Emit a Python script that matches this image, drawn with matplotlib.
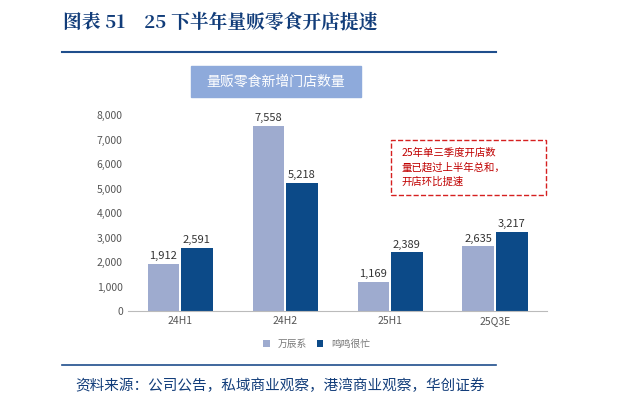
import matplotlib.pyplot as plt
from matplotlib.patches import Rectangle
import numpy as np

plt.rcParams['font.family'] = ['Noto Sans CJK SC', 'DejaVu Sans']

categories = ['24H1', '24H2', '25H1', '25Q3E']
wanchen = [1912, 7558, 1169, 2635]
mingming = [2591, 5218, 2389, 3217]
series_names = ['万辰系', '鸣鸣很忙']

fig = plt.figure(figsize=(6.2, 4.07), dpi=100)
ax = fig.add_axes([0.206, 0.236, 0.677, 0.481])

x = np.arange(len(categories))
w = 0.3
c1, c2 = '#9eabcf', '#0c4a88'
b1 = ax.bar(x - w / 2 - 0.01, wanchen, w, color=c1, label=series_names[0])
b2 = ax.bar(x + w / 2 + 0.01, mingming, w, color=c2, label=series_names[1])
for bars in (b1, b2):
    for r in bars:
        ax.text(r.get_x() + r.get_width() / 2, r.get_height() + 120, f'{int(r.get_height()):,}',
                ha='center', va='bottom', fontsize=8, color='#333333')

ax.set_ylim(0, 8000)
ax.set_yticks(range(0, 8001, 1000))
ax.set_yticklabels([f'{v:,}' for v in range(0, 8001, 1000)], fontsize=7.5, color='#555555')
ax.set_xticks(x)
ax.set_xticklabels(categories, fontsize=7.5, color='#555555')
ax.set_xlim(-0.5, 3.5)
for s in ['top', 'right', 'left']:
    ax.spines[s].set_visible(False)
ax.spines['bottom'].set_color('#bbbbbb')
ax.tick_params(length=0)

ax.legend(loc='upper center', bbox_to_anchor=(0.45, -0.1), ncol=2, frameon=False,
          fontsize=7, handlelength=0.7, handleheight=0.7, columnspacing=1, labelcolor='#777777')

# title
fig.text(0.102, 0.945, '图表 51    25 下半年量贩零食开店提速', fontsize=13.5, fontweight='bold',
         color='#123d7a', family=['Noto Serif CJK SC', 'Noto Sans CJK SC', 'DejaVu Sans'], va='center')
fig.add_artist(plt.Line2D([0.1, 0.8], [0.872, 0.872], color='#1f4e8c', lw=1.5))
fig.add_artist(Rectangle((0.308, 0.762), 0.274, 0.076, color='#8eaadb'))
fig.text(0.445, 0.8, '量贩零食新增门店数量', fontsize=10, color='white', ha='center', va='center')

# annotation
fig.add_artist(Rectangle((0.63, 0.52), 0.25, 0.135, fill=False, ec='#d62020', ls='--', lw=1))
fig.text(0.648, 0.588, '25年单三季度开店数\n量已超过上半年总和，\n开店环比提速', fontsize=7.5,
         color='#c00000', va='center', linespacing=1.5)

fig.add_artist(plt.Line2D([0.1, 0.8], [0.103, 0.103], color='#1f4e8c', lw=1.2))
fig.text(0.121, 0.052, '资料来源：公司公告，私域商业观察，港湾商业观察，华创证券', fontsize=10.5,
         color='#123d7a', style='italic', va='center')

fig.savefig('out.png', dpi=100)
